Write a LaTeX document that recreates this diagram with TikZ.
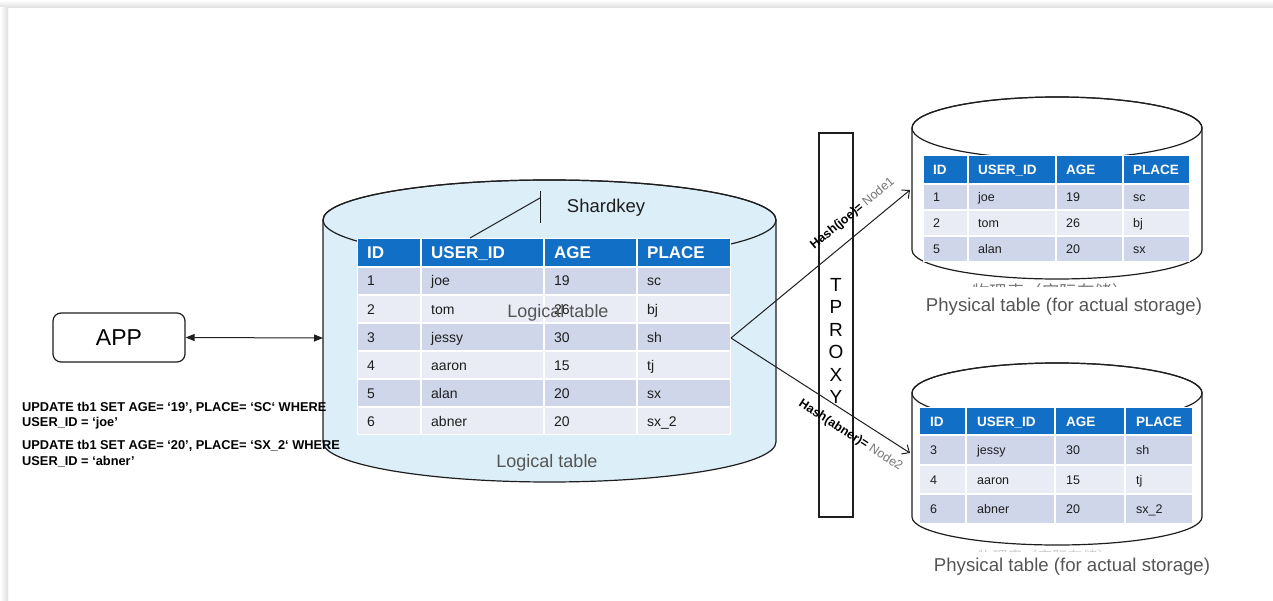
\documentclass[tikz,border=0pt]{standalone}
\usepackage{fontspec}
\setmainfont{Liberation Sans}
\newfontfamily\cjkfont{Noto Sans CJK SC}
\usetikzlibrary{arrows.meta}

\definecolor{cylblue}{RGB}{220,238,248}
\definecolor{hdrblue}{RGB}{17,111,198}
\definecolor{rowdark}{RGB}{207,214,234}
\definecolor{rowlight}{RGB}{233,235,245}
\definecolor{ink}{RGB}{30,30,30}
\definecolor{labelgray}{RGB}{85,85,85}
\definecolor{shadowgray}{RGB}{222,222,222}

% cylinder: fill, centre x, x radius, top centre y, top y radius, bottom centre y, bottom y radius
\newcommand\dbcyl[7]{%
  \path[cylline, fill=#1] (#2-#3,#4) -- (#2-#3,#6)
    arc[start angle=180,end angle=360,x radius=#3pt,y radius=#7pt]
    -- (#2+#3,#4)
    arc[start angle=0,end angle=180,x radius=#3pt,y radius=#5pt] -- cycle;
  \draw[cylline] (#2,#4) ellipse[x radius=#3pt,y radius=#5pt];
}

% header row of a table; column bounds \cA..\cE, header from \yH to \yB
\newcommand\tblheader[1]{%
  \foreach \xl/\xr/\txt [count=\k] in {\cA/\cB/ID,\cB/\cC/USER\_ID,\cC/\cD/AGE,\cD/\cE/PLACE}{%
    \fill[hdrblue] (\xl+1,\yH+1) rectangle (\xr-1,\yB-1);
    \node[hdrtxt] (#1-h\k) at (\xl+\padx,\yH/2+\yB/2+\hshift) {\txt};
  }%
}

% body rows, alternating shades, row height \rH
\newcommand\tblbody[2]{%
  \foreach \va/\vb/\vc/\vd [count=\k] in {#2}{%
    \pgfmathsetmacro\yt{\yB+(\k-1)*\rH}%
    \pgfmathsetmacro\ym{\yt+\rH/2+\bshift}%
    \ifodd\k\relax\def\rowcol{rowdark}\else\def\rowcol{rowlight}\fi
    \fill[fill=\rowcol] (\cA+1,\yt+1) rectangle (\cB-1,\yt+\rH-1);
    \fill[fill=\rowcol] (\cB+1,\yt+1) rectangle (\cC-1,\yt+\rH-1);
    \fill[fill=\rowcol] (\cC+1,\yt+1) rectangle (\cD-1,\yt+\rH-1);
    \fill[fill=\rowcol] (\cD+1,\yt+1) rectangle (\cE-1,\yt+\rH-1);
    \node[celltxt] (#1-r\k-a) at (\cA+\padx,\ym) {\va};
    \node[celltxt] (#1-r\k-b) at (\cB+\padx,\ym) {\vb};
    \node[celltxt] (#1-r\k-c) at (\cC+\padx,\ym) {\vc};
    \node[celltxt] (#1-r\k-d) at (\cD+\padx,\ym) {\vd};
  }%
}

\begin{document}
\begin{tikzpicture}[x=1pt,y=-1pt,
  cylline/.style={draw=ink,line width=1.2pt},
  hdrtxt/.style={anchor=base west,inner sep=0pt,text=white,font=\bfseries\hdrfont},
  celltxt/.style={anchor=base west,inner sep=0pt,text=ink,font=\bodyfont},
  graylabel/.style={text=labelgray,font=\fontsize{18}{21}\selectfont,inner sep=0pt},
  physlabel/.style={text=labelgray,font=\fontsize{18.6}{21}\selectfont,inner sep=0pt},
  sqltxt/.style={anchor=base west,inner sep=0pt,text=black,font=\bfseries\fontsize{12.8}{15}\selectfont},
  hashlbl/.style={sloped,inner sep=0pt,font=\fontsize{12.5}{15}\selectfont},
  flow/.style={draw=ink,line width=1pt,-{Straight Barb[length=6pt,width=11pt]}}]

% page with a soft frame shadow along the top and left
\useasboundingbox (0,0) rectangle (1273,601);
\fill[white] (0,0) rectangle (1273,601);
\shade[top color=white,bottom color=shadowgray] (0,0) rectangle (1273,8);
\shade[left color=white,right color=shadowgray] (0,8) rectangle (8,601);

% ---------- logical table ----------
\dbcyl{cylblue}{549.5}{226.5}{220}{40}{442}{40}

\def\cA{357}\def\cB{421}\def\cC{544}\def\cD{637}\def\cE{731}
\def\yH{238}\def\yB{267}\def\rH{28}\def\padx{10}
\def\hdrfont{\fontsize{17}{20}\selectfont}\def\hshift{6}
\def\bodyfont{\fontsize{14}{17}\selectfont}\def\bshift{5}
\fill[white] (\cA,\yH) rectangle (\cE,435);
\tblheader{L}
\tblbody{L}{1/joe/19/sc,2/tom/26/bj,3/jessy/30/sh,4/aaron/15/tj,5/alan/20/sx,6/abner/20/sx\_2}

\node[graylabel] (ltmid) at (558,313) {Logical table};
\node[graylabel] (ltbot) at (547,463) {Logical table};

% shard key callout
\coordinate (skfoot) at (470,238);
\coordinate (skknee) at (540,198);
\coordinate (sktop) at (540,191);
\coordinate (skbot) at (540,223);
\draw[ink,line width=1pt] (skfoot) -- (skknee);
\draw[ink,line width=1pt] (sktop) -- (skbot);
\node[text=ink,font=\fontsize{18.5}{22}\selectfont,inner sep=0pt] (shardkey) at (606,208) {Shardkey};

% ---------- application ----------
\node[draw=ink,line width=1.2pt,rounded corners=8pt,minimum width=132pt,minimum height=49pt,
      font=\fontsize{23}{26}\selectfont,inner sep=0pt] (app) at (119,337.5) {APP};
\coordinate (lcylW) at (323,338);
\draw[ink,line width=1pt,{Triangle[length=9pt,width=7pt]}-{Triangle[length=9pt,width=7pt]}] (app.east) -- (lcylW);

\node[sqltxt] (sql1a) at (22,411) {UPDATE tb1 SET AGE= ‘19', PLACE= ‘SC‘ WHERE};
\node[sqltxt] (sql1b) at (22,426) {USER\_ID = ‘joe'};
\node[sqltxt] (sql2a) at (22,449) {UPDATE tb1 SET AGE= ‘20', PLACE= ‘SX\_2‘ WHERE};
\node[sqltxt] (sql2b) at (22,465) {USER\_ID = ‘abner'};

% ---------- proxy ----------
\node[draw=ink,line width=1.2pt,fill=white,minimum width=34pt,minimum height=384pt,inner sep=0pt] (tproxy) at (836,325) {};
\node[align=center,font=\fontsize{19}{22.4}\selectfont,inner sep=0pt] (tproxylbl) at (836,341) {T\\P\\R\\O\\X\\Y};

% ---------- physical table 1 ----------
\begin{scope}
  \clip (900,279.5) rectangle (1220,286.5);
  \node[text=labelgray!80,font=\cjkfont\fontsize{17.5}{20}\selectfont,inner sep=0pt] (cn1) at (1051,291.5) {物理表（实际存储）};
\end{scope}
\dbcyl{white}{1057}{145}{128}{31}{250}{29}
\def\cA{923}\def\cB{968}\def\cC{1056}\def\cD{1123}\def\cE{1190}
\def\yH{155}\def\yB{184}\def\rH{26}\def\padx{10}
\def\hdrfont{\fontsize{13.5}{16}\selectfont}\def\hshift{5}
\def\bodyfont{\fontsize{12.5}{15}\selectfont}\def\bshift{4.5}
\fill[white] (\cA,\yH) rectangle (\cE,262);
\tblheader{P}
\tblbody{P}{1/joe/19/sc,2/tom/26/bj,5/alan/20/sx}
\node[physlabel] (plbl1) at (1064,307) {Physical table (for actual storage)};

% ---------- physical table 2 ----------
\begin{scope}
  \clip (900,548.5) rectangle (1220,551);
  \node[text=labelgray!30,font=\cjkfont\fontsize{15}{18}\selectfont,inner sep=0pt] (cn2) at (1045,557) {物理表（实际存储）};
\end{scope}
\dbcyl{white}{1057}{145}{393}{30}{517}{28}
\def\cA{919}\def\cB{966}\def\cC{1055}\def\cD{1125}\def\cE{1193}
\def\yH{407}\def\yB{435}\def\rH{29.7}\def\padx{11}
\fill[white] (\cA,\yH) rectangle (\cE,524.1);
\tblheader{Q}
\tblbody{Q}{3/jessy/30/sh,4/aaron/15/tj,6/abner/20/sx\_2}
\node[physlabel] (plbl2) at (1072,567) {Physical table (for actual storage)};

% ---------- routing ----------
\coordinate (split) at (731,338);
\coordinate (p1in) at (910,190);
\coordinate (p2in) at (910,453);
\draw[flow] (split) -- node[hashlbl,pos=0.745,above=12pt] (hash1)
  {\textbf{Hash(joe)=} {\color{labelgray!80}Node1}} (p1in);
\draw[flow] (split) -- node[hashlbl,pos=0.72,below=11pt] (hash2)
  {\textbf{Hash(abner)=} {\color{labelgray!80}Node2}} (p2in);
\end{tikzpicture}
\end{document}
